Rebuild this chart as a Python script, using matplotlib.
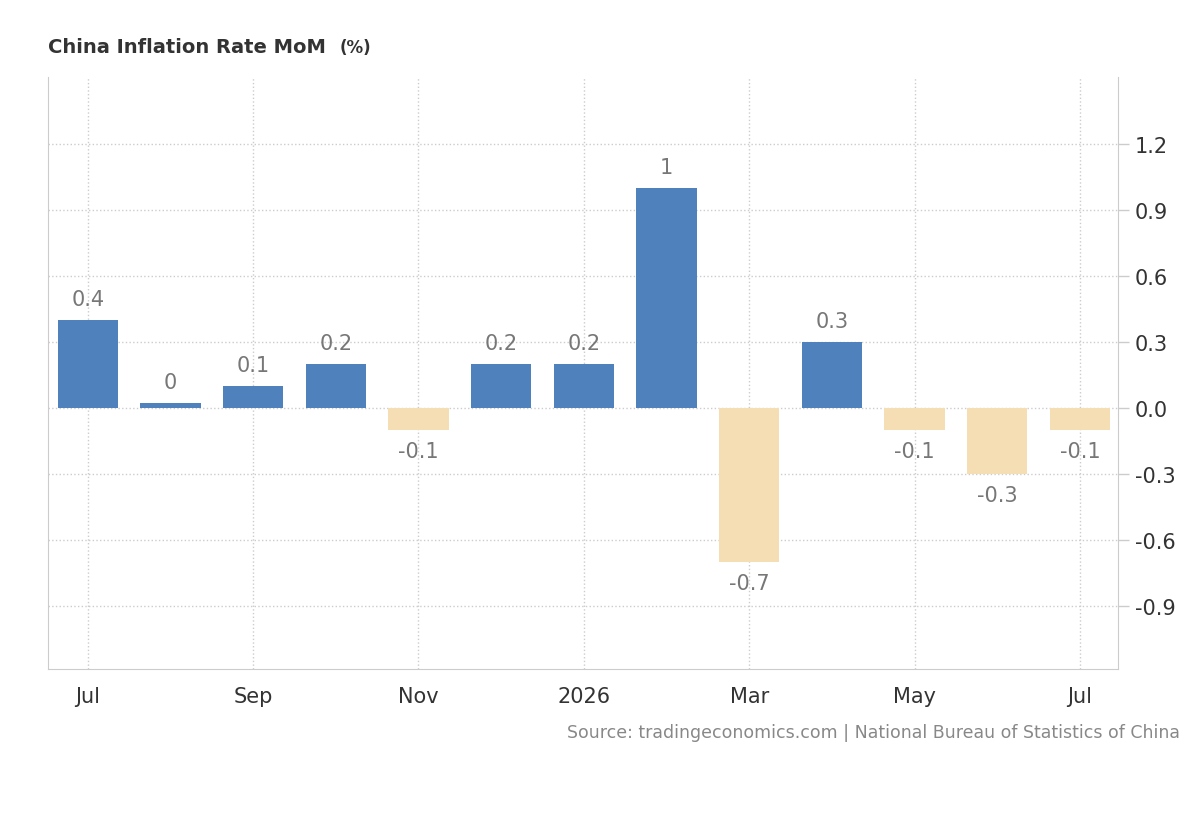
import numpy as np
import matplotlib.pyplot as plt

# data
months = ["Jul", "Aug", "Sep", "Oct", "Nov", "Dec", "2026", "Feb", "Mar", "Apr", "May", "Jun", "Jul"]
values = [0.4, 0.0, 0.1, 0.2, -0.1, 0.2, 0.2, 1.0, -0.7, 0.3, -0.1, -0.3, -0.1]
labels = ["0.4", "0", "0.1", "0.2", "-0.1", "0.2", "0.2", "1", "-0.7", "0.3", "-0.1", "-0.3", "-0.1"]
yticks = [-0.9, -0.6, -0.3, 0.0, 0.3, 0.6, 0.9, 1.2]

blue = "#4f81bd"
sand = "#f5deb3"

fig = plt.figure(figsize=(12, 8.2), dpi=100)
ax = fig.add_axes([0.04, 0.183, 0.8917, 0.722])

x = np.arange(len(values))
# zero values are drawn as a thin sliver, like the source
heights = [v if v != 0 else 0.025 for v in values]
colors = [blue if v >= 0 else sand for v in values]
ax.bar(x, heights, width=0.73, color=colors, zorder=3)

for xi, v, h, lab in zip(x, values, heights, labels):
    if v >= 0:
        ax.text(xi, h + 0.05, lab, ha="center", va="bottom", fontsize=15, color="#777777")
    else:
        ax.text(xi, h - 0.05, lab, ha="center", va="top", fontsize=15, color="#777777")

ax.set_xlim(-0.48, 12.46)
ax.set_ylim(-1.186, 1.505)

tick_pos = [0, 2, 4, 6, 8, 10, 12]
ax.set_xticks(tick_pos)
ax.set_xticklabels([months[i] for i in tick_pos])
ax.set_yticks(yticks)
ax.set_yticklabels([f"{t:.1f}" for t in yticks])
ax.yaxis.tick_right()
ax.tick_params(axis="both", labelsize=15, colors="#333333", length=0, pad=10)
ax.tick_params(axis="y", length=8, color="#cccccc", width=1, pad=4)
ax.tick_params(axis="x", pad=12)

ax.grid(True, linestyle=":", color="#cccccc", linewidth=1, zorder=0)
for s in ["top"]:
    ax.spines[s].set_visible(False)
for s in ["left", "right", "bottom"]:
    ax.spines[s].set_color("#cccccc")

fig.text(0.04, 0.935, "China Inflation Rate MoM", fontsize=14, fontweight="bold", color="#333333")
fig.text(0.283, 0.935, "(%)", fontsize=12, fontweight="bold", color="#333333")
fig.text(0.983, 0.1, "Source: tradingeconomics.com | National Bureau of Statistics of China",
         ha="right", fontsize=12.5, color="#888888")

fig.savefig("out.png")
